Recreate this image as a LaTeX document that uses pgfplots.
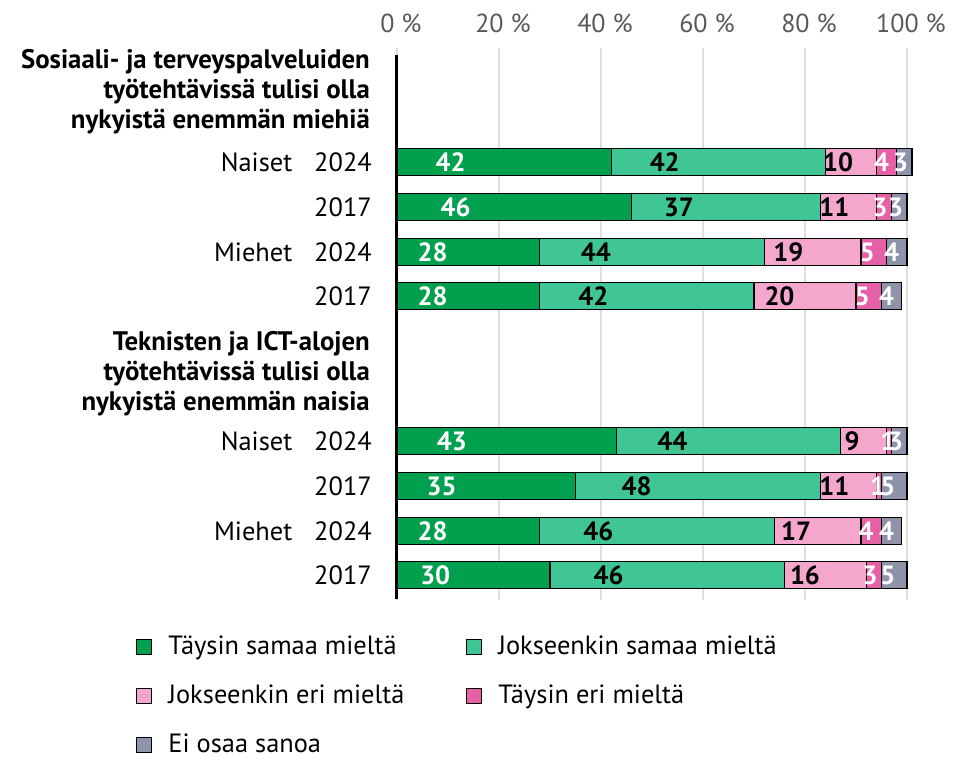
\documentclass[border=0pt]{standalone}
\usepackage{fontspec}
\setmainfont{PT Sans}
\usepackage{pgfplots}
\usepackage{pgfplotstable}
\pgfplotsset{compat=1.18}

\definecolor{c1}{HTML}{00A04F}
\definecolor{c2}{HTML}{40C595}
\definecolor{c3}{HTML}{F4A6CC}
\definecolor{c4}{HTML}{E660A6}
\definecolor{c5}{HTML}{8F93AA}

% rows placed at their pixel heights (1 px = 0.5pt)
\pgfplotstableread{
y a b c d e
162 42 42 10 4 3
207 46 37 11 3 3
252 28 44 19 5 4
296 28 42 20 5 4
441 43 44 9 1 3
486 35 48 11 1 5
531 28 46 17 4 4
575 30 46 16 3 5
}\data

% the shift ends up applied twice, hence /4 for half a segment
\pgfplotsset{
  seg/.style n args={3}{
    fill=#1, draw=black, line width=0.6pt,
    point meta=explicit,
    visualization depends on={\thisrow{#3} \as \rawx},
    nodes near coords,
    every node near coord/.style={text=#2, font=\bfseries, anchor=center,
      shift={(axis direction cs:-\rawx/4,0)}}
  }
}

\begin{document}
\fontsize{13.2}{16}\selectfont
\begin{tikzpicture}
\path[use as bounding box] (0,0) rectangle (477.5pt,380pt);
\begin{axis}[
    at={(198.5pt,80pt)}, anchor=south west,
    scale only axis,
    width=255pt, height=276pt,
    xmin=0, xmax=100,
    ymin=48, ymax=600,
    y dir=reverse,
    xbar stacked,
    bar width=27,
    clip=false,
    /pgf/number format/assume math mode=true,
    axis line style={draw=none},
    major tick length=0pt,
    xmajorgrids,
    grid style={draw=black!13, line width=1pt},
    xtick={0,20,40,60,80,100},
    xticklabels={0 \%,20 \%,40 \%,60 \%,80 \%,100 \%},
    xticklabel pos=upper,
    xticklabel style={text=black!65, font=\fontsize{13}{15}\selectfont, yshift=3pt, xshift=2pt},
    ytick={162,207,252,296,441,486,531,575},
    yticklabels={Naiset\hspace{11pt}2024,2017,Miehet\hspace{11pt}2024,2017,
                 Naiset\hspace{11pt}2024,2017,Miehet\hspace{11pt}2024,2017},
    yticklabel style={anchor=east, xshift=-8pt},
    legend image code/.code={\draw[#1,draw=black,line width=0.5pt] (0pt,-3.75pt) rectangle (7.5pt,3.75pt);},
    legend style={at={(-0.5235,-0.043)}, anchor=north west, draw=none, fill=none,
      legend columns=2, row sep=5pt,
      nodes={inner sep=4pt},
      /tikz/every odd column/.append style={column sep=4pt},
      /tikz/every even column/.append style={column sep=27pt},
      legend cell align=left},
]
\addplot[seg={c1}{white}{a}] table[x=a, y=y, meta=a] {\data};
\addplot[seg={c2}{black}{b}] table[x=b, y=y, meta=b] {\data};
\addplot[seg={c3}{black}{c}] table[x=c, y=y, meta=c] {\data};
\addplot[seg={c4}{white}{d}] table[x=d, y=y, meta=d] {\data};
\addplot[seg={c5}{white}{e}] table[x=e, y=y, meta=e] {\data};
\legend{Täysin samaa mieltä, Jokseenkin samaa mieltä, Jokseenkin eri mieltä, Täysin eri mieltä, Ei osaa sanoa}

\draw[line width=1.5pt] (axis cs:0,55) -- (axis cs:0,599);
\node[anchor=east, align=right, font=\bfseries\fontsize{13.4}{15}\selectfont, xshift=-9pt] at (axis cs:0,92)
  {Sosiaali- ja terveyspalveluiden\\työtehtävissä tulisi olla\\nykyistä enemmän miehiä};
\node[anchor=east, align=right, font=\bfseries\fontsize{13.4}{15}\selectfont, xshift=-9pt] at (axis cs:0,374)
  {Teknisten ja ICT-alojen\\työtehtävissä tulisi olla\\nykyistä enemmän naisia};
\end{axis}
\end{tikzpicture}
\end{document}
